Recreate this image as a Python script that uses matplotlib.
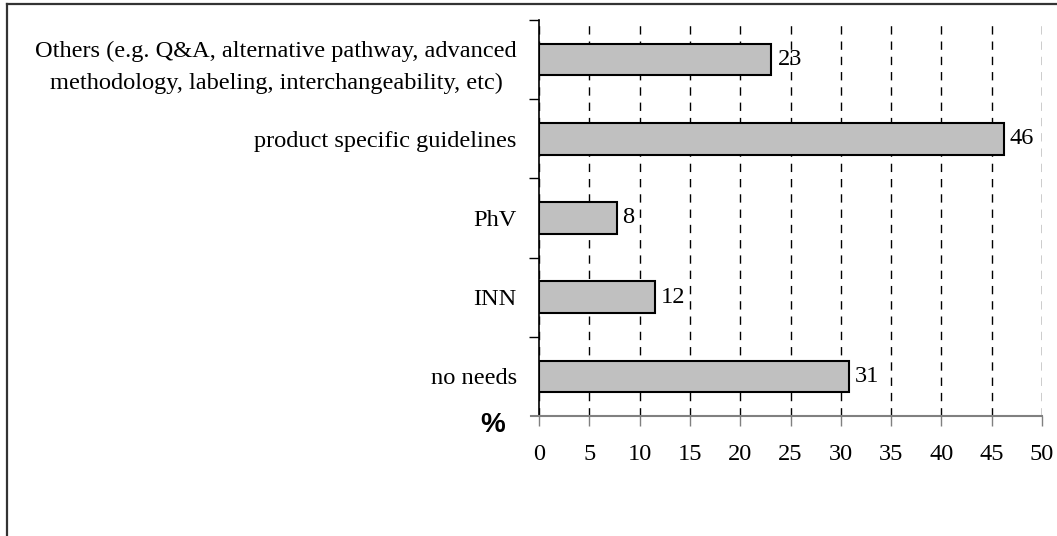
import matplotlib.pyplot as plt
import numpy as np
from matplotlib.lines import Line2D

# categories listed bottom-up, as they appear on the y axis
categories = ['no needs', 'INN', 'PhV', 'product specific guidelines',
              'Others (e.g. Q&A, alternative pathway, advanced\n'
              'methodology, labeling, interchangeability, etc)']
percent = [30.8, 11.5, 7.7, 46.2, 23.1]
xticks = list(range(0, 55, 5))

plt.rcParams['font.family'] = 'Liberation Serif'
FS = 17.6

fig = plt.figure(figsize=(10.57, 5.36), dpi=100)
ax = fig.add_axes([0.51, 0.2239, 0.9858 - 0.51, 0.9627 - 0.2239])

y = np.arange(len(categories))
ax.barh(y, percent, height=0.4, color='#C0C0C0', edgecolor='black', linewidth=1.5, zorder=3)
for yi, v in zip(y, percent):
    ax.text(v + 0.6, yi, '{:.0f}'.format(v), va='center', ha='left', fontsize=FS, zorder=4)

ax.set_xlim(0, 50)
ax.set_ylim(-0.5, len(categories) - 0.5)
ax.set_xticks(xticks)
ax.set_xticklabels([str(t) for t in xticks], fontsize=FS)
ax.set_yticks(y)
ax.set_yticklabels(categories, fontsize=FS)
for lab in ax.get_yticklabels():
    lab.set_multialignment('center')
    lab.set_linespacing(1.65)
ax.set_yticks(np.arange(0.5, len(categories), 1.0), minor=True)
ax.tick_params(axis='y', which='major', length=0, pad=16)
ax.tick_params(axis='y', which='minor', length=7, width=1, direction='out')
ax.tick_params(axis='x', length=7, width=1, direction='out', color='#808080', pad=13)

ax.xaxis.grid(True, linestyle=(0, (6, 5)), color='black', linewidth=1, zorder=1)
ax.set_axisbelow(True)

for s in ['top', 'right']:
    ax.spines[s].set_visible(False)
ax.spines['left'].set_color('black')
ax.spines['left'].set_linewidth(1.2)
ax.spines['bottom'].set_color('#808080')
ax.spines['bottom'].set_linewidth(1.5)
ax.spines['bottom'].set_bounds(-0.8, 50)

fig.text(493 / 1057, 1 - 425 / 536, '%', family='Liberation Sans', fontweight='bold',
         fontsize=20, ha='center', va='center')

# partial frame round the figure
fig.add_artist(Line2D([7 / 1057, 7 / 1057], [0, 1 - 4 / 536], transform=fig.transFigure,
                      color='#333333', linewidth=1.6))
fig.add_artist(Line2D([7 / 1057, 1], [1 - 4 / 536, 1 - 4 / 536], transform=fig.transFigure,
                      color='#333333', linewidth=1.6))

plt.savefig('out.png', dpi=100)
